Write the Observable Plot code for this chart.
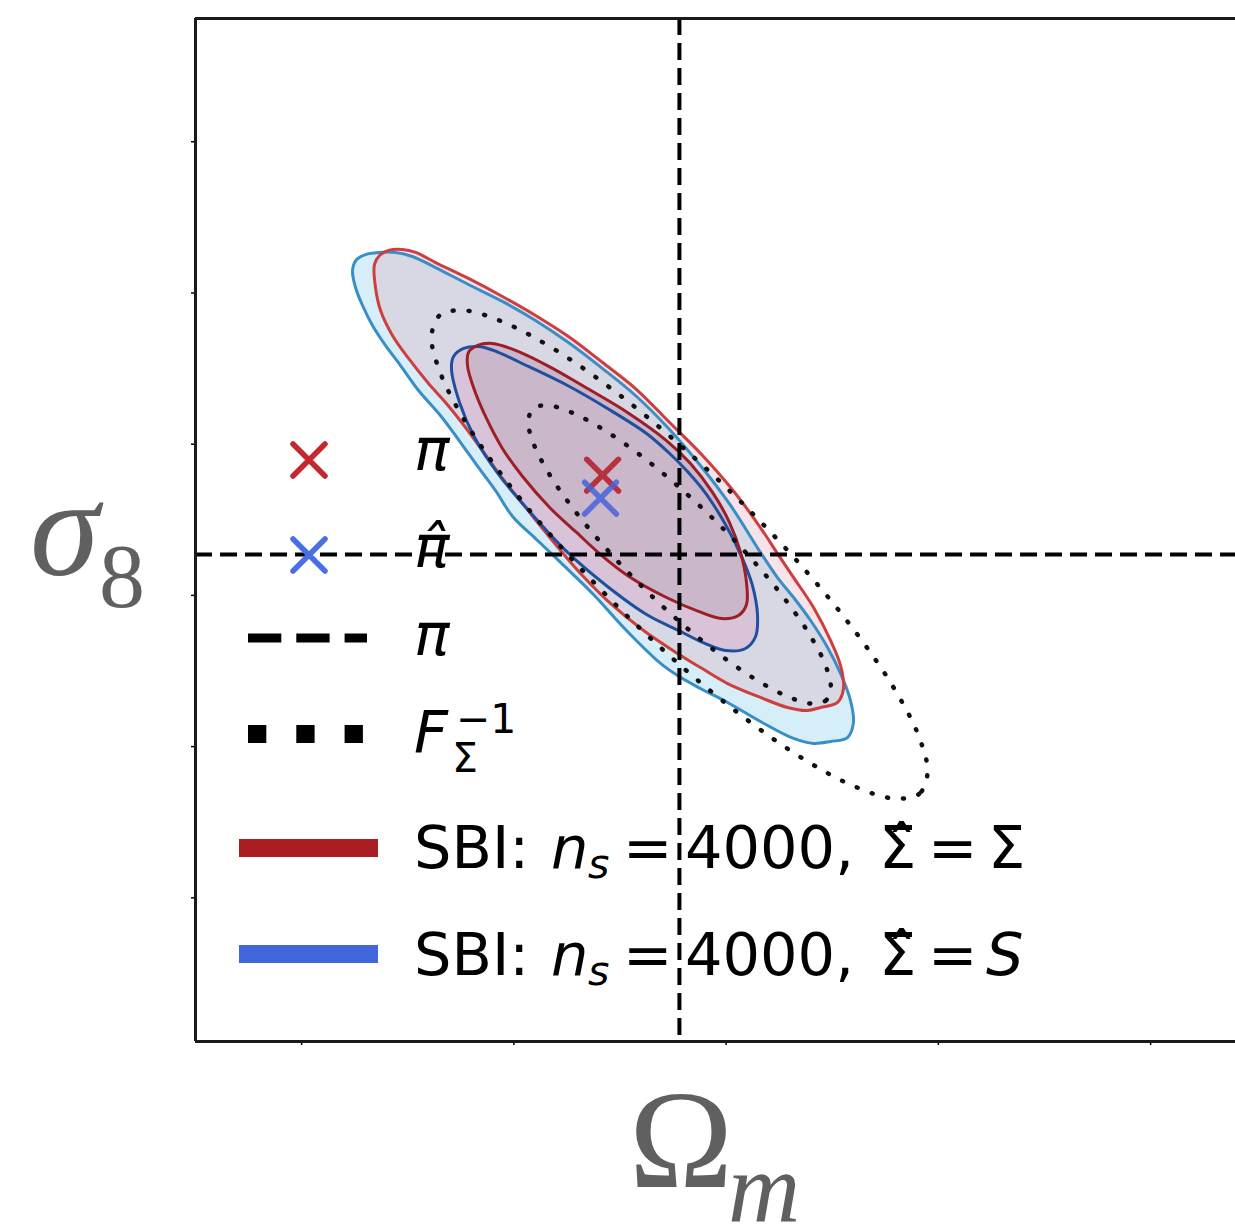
<!DOCTYPE html>
<html><head><meta charset="utf-8">
<script src="https://cdn.jsdelivr.net/npm/d3@7"></script>
<script src="https://cdn.jsdelivr.net/npm/@observablehq/plot@0.6"></script>
<style>
html,body{margin:0;padding:0;background:#fff;}
#wrap{position:relative;width:1235px;height:1225px;overflow:hidden;}
#wrap svg.overlay{position:absolute;left:0;top:0;pointer-events:none;}
</style></head><body>
<div id="wrap"></div>
<script>
// ---- data (Omega_m, sigma_8) ----
const omegaTicks = [0.1, 0.2, 0.3, 0.4, 0.5];
const sigmaTicks = [0.5, 0.6, 0.7, 0.8, 0.9, 1.0];
const omegaDomain = [0.05, 0.54];
const sigmaDomain = [0.405, 1.0815];
const truthOmega = [0.2780];
const truthSigma = [0.7271];
const piMarker = [{om: 0.2418, s8: 0.7795}];
const piHatMarker = [{om: 0.2408, s8: 0.7643}];

// SBI, Sigma-hat = S : outer (2 sigma) contour
const sbiSOuter = [[0.1240,0.9149],[0.1259,0.9221],[0.1301,0.9254],[0.1362,0.9268],[0.1442,0.9268],[0.1522,0.9241],[0.1631,0.9168],[0.1786,0.9056],[0.1946,0.8944],[0.2102,0.8818],[0.2257,0.8672],[0.2418,0.8500],[0.2573,0.8322],[0.2729,0.8104],[0.2879,0.7859],[0.3021,0.7595],[0.3162,0.7284],[0.3242,0.7118],[0.3318,0.6986],[0.3398,0.6834],[0.3478,0.6656],[0.3539,0.6484],[0.3586,0.6305],[0.3600,0.6160],[0.3572,0.6060],[0.3492,0.6034],[0.3412,0.6021],[0.3318,0.6054],[0.3162,0.6166],[0.3007,0.6292],[0.2879,0.6384],[0.2771,0.6470],[0.2691,0.6550],[0.2535,0.6761],[0.2375,0.7006],[0.2220,0.7218],[0.2102,0.7376],[0.1994,0.7522],[0.1913,0.7694],[0.1833,0.7846],[0.1749,0.8011],[0.1654,0.8190],[0.1551,0.8355],[0.1466,0.8520],[0.1395,0.8653],[0.1334,0.8785],[0.1287,0.8917],[0.1254,0.9036]];
// SBI, Sigma-hat = Sigma : outer contour
const sbiSigmaOuter = [[0.1343,0.9188],[0.1367,0.9248],[0.1409,0.9281],[0.1475,0.9287],[0.1537,0.9268],[0.1631,0.9201],[0.1786,0.9096],[0.1946,0.8977],[0.2102,0.8851],[0.2257,0.8712],[0.2418,0.8540],[0.2573,0.8368],[0.2729,0.8150],[0.2889,0.7925],[0.3044,0.7674],[0.3171,0.7429],[0.3242,0.7277],[0.3318,0.7118],[0.3412,0.6920],[0.3492,0.6702],[0.3539,0.6537],[0.3553,0.6384],[0.3525,0.6292],[0.3445,0.6259],[0.3383,0.6239],[0.3289,0.6259],[0.3162,0.6325],[0.3007,0.6417],[0.2879,0.6523],[0.2771,0.6616],[0.2611,0.6768],[0.2455,0.6947],[0.2314,0.7145],[0.2220,0.7297],[0.2135,0.7442],[0.2041,0.7608],[0.1946,0.7773],[0.1852,0.7958],[0.1758,0.8137],[0.1678,0.8276],[0.1598,0.8401],[0.1504,0.8567],[0.1428,0.8719],[0.1372,0.8884],[0.1348,0.9036]];
// SBI, S : inner (1 sigma) contour
const sbiSInner = [[0.1706,0.8500],[0.1716,0.8580],[0.1763,0.8633],[0.1833,0.8646],[0.1904,0.8620],[0.2069,0.8514],[0.2253,0.8388],[0.2441,0.8236],[0.2625,0.8071],[0.2729,0.7945],[0.2818,0.7819],[0.2908,0.7667],[0.2997,0.7469],[0.3073,0.7257],[0.3124,0.7066],[0.3148,0.6867],[0.3139,0.6728],[0.3091,0.6649],[0.2997,0.6636],[0.2889,0.6689],[0.2776,0.6768],[0.2625,0.6874],[0.2441,0.7059],[0.2253,0.7284],[0.2078,0.7548],[0.1928,0.7800],[0.1815,0.8044],[0.1744,0.8276]];
// SBI, Sigma : inner contour
const sbiSigmaInner = [[0.1782,0.8514],[0.1786,0.8606],[0.1829,0.8653],[0.1899,0.8666],[0.1984,0.8633],[0.2158,0.8520],[0.2347,0.8368],[0.2535,0.8210],[0.2719,0.8024],[0.2832,0.7872],[0.2936,0.7681],[0.3016,0.7482],[0.3068,0.7284],[0.3096,0.7085],[0.3096,0.6940],[0.3058,0.6867],[0.2978,0.6847],[0.2870,0.6894],[0.2719,0.6986],[0.2535,0.7132],[0.2408,0.7271],[0.2290,0.7423],[0.2173,0.7575],[0.2041,0.7786],[0.1946,0.7972],[0.1871,0.8170],[0.1815,0.8355]];
// Fisher forecast ellipses (F_Sigma^-1)
const fisherOuter = [[0.3949,0.5827],[0.3909,0.5687],[0.3792,0.5657],[0.3606,0.5736],[0.3365,0.5918],[0.3083,0.6194],[0.2780,0.6543],[0.2478,0.6941],[0.2196,0.7362],[0.1954,0.7776],[0.1768,0.8157],[0.1652,0.8477],[0.1612,0.8714],[0.1652,0.8854],[0.1768,0.8884],[0.1954,0.8805],[0.2196,0.8623],[0.2478,0.8347],[0.2780,0.7998],[0.3083,0.7600],[0.3365,0.7179],[0.3606,0.6765],[0.3792,0.6384],[0.3909,0.6064]];
const fisherInner = [[0.3493,0.6390],[0.3469,0.6304],[0.3398,0.6285],[0.3285,0.6334],[0.3137,0.6446],[0.2965,0.6614],[0.2780,0.6827],[0.2596,0.7070],[0.2424,0.7327],[0.2276,0.7580],[0.2163,0.7811],[0.2092,0.8007],[0.2068,0.8151],[0.2092,0.8237],[0.2163,0.8256],[0.2276,0.8207],[0.2424,0.8095],[0.2596,0.7927],[0.2780,0.7714],[0.2965,0.7471],[0.3137,0.7214],[0.3285,0.6961],[0.3398,0.6730],[0.3469,0.6535]];

// ---- chart ----
const X = d => d[0], Y = d => d[1];
const fillShape = (data, fill, fillOpacity = 1) =>
  Plot.line(data, {x: X, y: Y, curve: "catmull-rom-closed", fill, fillOpacity, stroke: "none"});
const strokeShape = (data, stroke, strokeWidth = 3, extra = {}) =>
  Plot.line(data, {x: X, y: Y, curve: "catmull-rom-closed", stroke, strokeWidth, ...extra});
const dotted = {strokeDasharray: "1 15", strokeLinecap: "round"};

const chart = Plot.plot({
  width: 1235, height: 1225,
  marginLeft: 195, marginRight: 0, marginTop: 18, marginBottom: 184,
  x: {domain: omegaDomain},
  y: {domain: sigmaDomain},
  style: {background: "white", overflow: "visible"},
  marks: [
    fillShape(sbiSOuter, "#73c6e8", 0.3),
    fillShape(sbiSigmaOuter, "#e2a5b5", 0.3),
    fillShape(sbiSInner, "#d9c3d8"),
    fillShape(sbiSigmaInner, "#cbb7ca"),
    strokeShape(sbiSOuter, "#3a8ec6"),
    strokeShape(sbiSigmaOuter, "#cf3e3e"),
    strokeShape(sbiSInner, "#1f4f9e"),
    strokeShape(sbiSigmaInner, "#9c1f27"),
    strokeShape(fisherOuter, "#111", 4.5, dotted),
    strokeShape(fisherInner, "#111", 4.5, dotted),
    Plot.ruleX(truthOmega, {stroke: "#000", strokeWidth: 4, strokeDasharray: "17 8"}),
    Plot.ruleY(truthSigma, {stroke: "#000", strokeWidth: 4, strokeDasharray: "17 8"}),
    Plot.dot(piMarker, {x: "om", y: "s8", symbol: "times", r: 14.5, stroke: "#b5232f", strokeWidth: 5.5, strokeLinecap: "round", strokeOpacity: 0.9}),
    Plot.dot(piHatMarker, {x: "om", y: "s8", symbol: "times", r: 14.5, stroke: "#4a63d8", strokeWidth: 5.5, strokeLinecap: "round", strokeOpacity: 0.85}),
    Plot.axisX(omegaTicks, {anchor: "bottom", tickSize: 4, tickFormat: () => "", label: null, strokeWidth: 1.5}),
    Plot.axisY(sigmaTicks, {anchor: "left", tickSize: 4, tickFormat: () => "", label: null, strokeWidth: 1.5}),
    Plot.ruleY([sigmaDomain[0], sigmaDomain[1]], {stroke: "#1a1a1a", strokeWidth: 3}),
    Plot.ruleX([omegaDomain[0]], {stroke: "#1a1a1a", strokeWidth: 3})
  ]
});
document.getElementById("wrap").appendChild(chart);

// ---- legend and axis titles (overlay) ----
const ns = "http://www.w3.org/2000/svg";
const overlay = document.createElementNS(ns, "svg");
overlay.setAttribute("class", "overlay");
overlay.setAttribute("width", 1235);
overlay.setAttribute("height", 1225);
overlay.innerHTML = `
<g stroke-linecap="round" fill="none">
  <path d="M293,444 L325,476 M293,476 L325,444" stroke="#c3282d" stroke-width="5.5"/>
  <path d="M293,539 L325,571 M293,571 L325,539" stroke="#4a6fe3" stroke-width="5.5"/>
</g>
<line x1="248" y1="638" x2="367" y2="638" stroke="#000" stroke-width="9" stroke-dasharray="33.3 15"/>
<line x1="248" y1="734" x2="367" y2="734" stroke="#000" stroke-width="18" stroke-dasharray="18.3 30"/>
<line x1="239" y1="848" x2="378" y2="848" stroke="#a81c22" stroke-width="18"/>
<line x1="239" y1="954" x2="378" y2="954" stroke="#4266dc" stroke-width="18"/>
<g font-family="DejaVu Sans" font-size="59" fill="#000">
  <text x="414" y="470" font-style="italic">\u03c0</text>
  <text x="414" y="567" font-style="italic">\u03c0\u0302</text>
  <text x="414" y="655" font-style="italic">\u03c0</text>
  <text x="414" y="753" font-style="italic">F</text>
  <text x="452" y="772" font-size="41">\u03a3</text>
  <text x="456" y="733" font-size="41">\u22121</text>
  <text y="868"><tspan x="414">SBI:</tspan><tspan x="551" font-style="italic">n</tspan><tspan x="588" y="878" font-style="italic" font-size="41">s</tspan><tspan x="623" y="868">=</tspan><tspan x="685">4000,</tspan><tspan x="879">\u03a3\u0302</tspan><tspan x="928">=</tspan><tspan x="988">\u03a3</tspan></text>
  <text y="975"><tspan x="414">SBI:</tspan><tspan x="551" font-style="italic">n</tspan><tspan x="588" y="985" font-style="italic" font-size="41">s</tspan><tspan x="623" y="975">=</tspan><tspan x="685">4000,</tspan><tspan x="879">\u03a3\u0302</tspan><tspan x="928">=</tspan><tspan x="986" font-style="italic">S</tspan></text>
</g>
<g font-family="Liberation Serif" fill="#606060">
  <text x="629" y="1187" font-size="140">\u03a9</text>
  <text x="728" y="1221" font-size="100" font-style="italic">m</text>
  <text x="30" y="575" font-size="140" font-style="italic">\u03c3</text>
  <text x="99" y="607" font-size="92">8</text>
</g>`;
document.getElementById("wrap").appendChild(overlay);
</script>
</body></html>
